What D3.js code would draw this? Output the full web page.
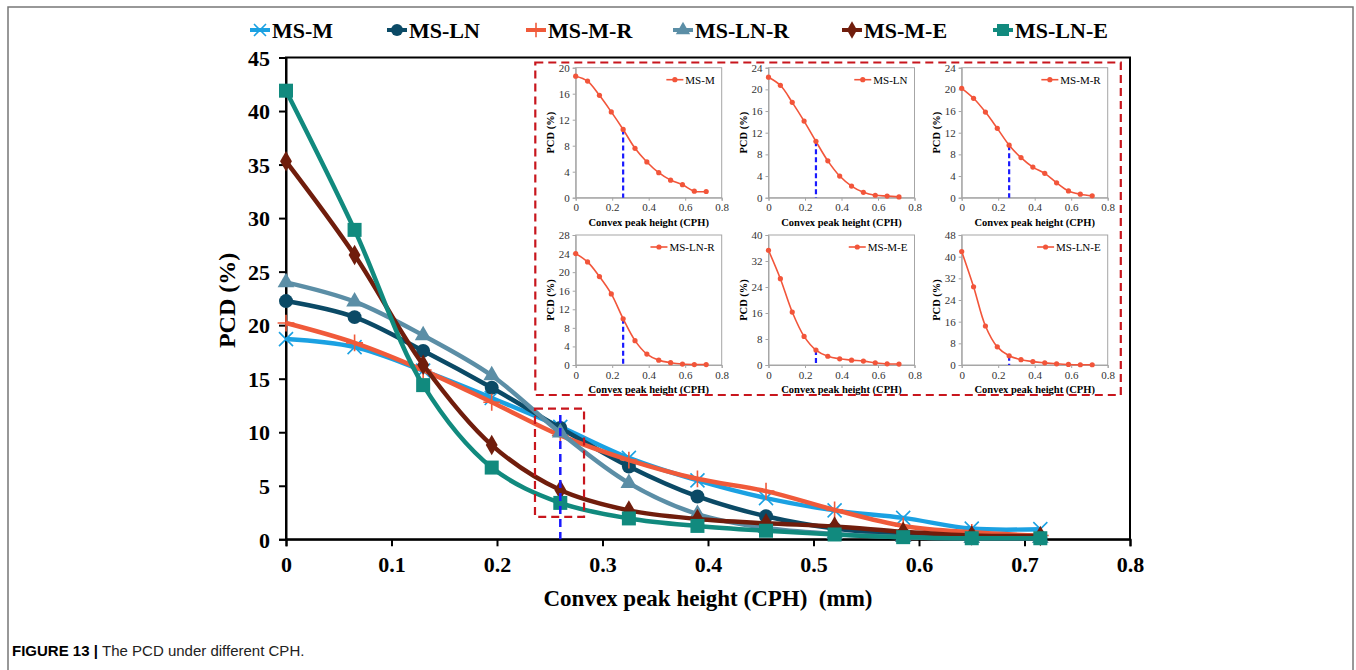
<!DOCTYPE html>
<html>
<head>
<meta charset="utf-8">
<script src="https://cdn.jsdelivr.net/npm/d3@7"></script>
<style>
  html, body { margin: 0; padding: 0; background: #fff; }
  svg { display: block; }
</style>
</head>
<body>
<svg id="chart" width="1356" height="670"></svg>
<script>
// Convex peak height (mm) at which PCD was measured
const cph = [0, 0.065, 0.13, 0.195, 0.26, 0.325, 0.39, 0.455, 0.52, 0.585, 0.65, 0.715];

// PCD (%) for each specimen group
const msM   = [18.7, 17.95, 15.75, 13.2, 10.5, 7.6, 5.5, 3.85, 2.7, 2.0, 1.0, 0.95];
const msLN  = [22.25, 20.75, 17.6, 14.15, 10.4, 6.8, 4.0, 2.15, 1.0, 0.45, 0.3, 0.15];
const msMR  = [20.2, 18.35, 15.8, 12.8, 9.7, 7.4, 5.65, 4.5, 2.75, 1.25, 0.65, 0.35];
const msLNR = [24.0, 22.2, 19.05, 15.3, 9.95, 5.25, 2.35, 1.05, 0.5, 0.2, 0.1, 0.1];
const msME  = [35.3, 26.55, 16.3, 8.8, 4.6, 2.7, 1.9, 1.5, 1.2, 0.7, 0.35, 0.3];
const msLNE = [41.9, 28.9, 14.4, 6.7, 3.4, 1.95, 1.25, 0.8, 0.45, 0.2, 0.1, 0.1];

const seriesNames = ["MS-M", "MS-LN", "MS-M-R", "MS-LN-R", "MS-M-E", "MS-LN-E"];
const seriesValues = [msM, msLN, msMR, msLNR, msME, msLNE];

// Axis ticks
const mainXTicks = [0, 0.1, 0.2, 0.3, 0.4, 0.5, 0.6, 0.7, 0.8];
const mainYTicks = [0, 5, 10, 15, 20, 25, 30, 35, 40, 45];
const insetXTicks = [0, 0.2, 0.4, 0.6, 0.8];
const insetYMax  = [20, 24, 24, 28, 40, 48];
const insetYStep = [4, 4, 4, 4, 8, 8];

// Critical height and the highlighted window around it
const criticalCPH = 0.26;
const criticalTop = 11.6;
const windowX = [0.236, 0.2825];
const windowY = [2.1, 12.2];

// Styling
const colors  = ["#1ba1e2", "#0b4a66", "#f05a3a", "#5b8ea6", "#701d0c", "#118a7e"];
const shapes  = ["x", "circle", "plus", "triangle", "diamond", "square"];
const insetColor = "#f2553a";
const serif = "'Liberation Serif', 'Times New Roman', serif";

const svg = d3.select("#chart");

// outer figure frame
svg.append("rect")
  .attr("x", 8).attr("y", 7).attr("width", 1345).attr("height", 700)
  .attr("fill", "none").attr("stroke", "#777").attr("stroke-width", 1.5);

// ---------- main chart ----------
const x = d3.scaleLinear().domain([0, 0.8]).range([286, 1130]);
const y = d3.scaleLinear().domain([0, 45]).range([539.3, 57.5]);

const gMain = svg.append("g");

// plot frame
gMain.append("rect")
  .attr("x", x(0)).attr("y", y(45))
  .attr("width", x(0.8) - x(0)).attr("height", y(0) - y(45))
  .attr("fill", "none").attr("stroke", "#000").attr("stroke-width", 2);

const xAxis = gMain.append("g")
  .attr("transform", `translate(0,${y(0)})`)
  .call(d3.axisBottom(x).tickValues(mainXTicks).tickSize(7).tickPadding(10)
    .tickFormat(d => d === 0 ? "0" : d3.format(".1f")(d)));
const yAxis = gMain.append("g")
  .attr("transform", `translate(${x(0)},0)`)
  .call(d3.axisLeft(y).tickValues(mainYTicks).tickSize(7).tickPadding(9));

[xAxis, yAxis].forEach(a => {
  a.select(".domain").attr("stroke", "#000").attr("stroke-width", 2);
  a.selectAll(".tick line").attr("stroke", "#000").attr("stroke-width", 2);
  a.selectAll(".tick text")
    .attr("fill", "#000")
    .style("font-family", serif).style("font-weight", "bold").style("font-size", "22px");
});
yAxis.selectAll(".tick text").attr("dy", "0.35em");

// axis titles
gMain.append("text")
  .attr("x", (x(0) + x(0.8)) / 2).attr("y", 606)
  .attr("text-anchor", "middle")
  .style("font-family", serif).style("font-weight", "bold").style("font-size", "23px")
  .text("Convex peak height (CPH)\u00a0\u00a0(mm)");
gMain.append("text")
  .attr("transform", `translate(235,${(y(0) + y(45)) / 2 + 2}) rotate(-90)`)
  .attr("text-anchor", "middle")
  .style("font-family", serif).style("font-weight", "bold").style("font-size", "24px")
  .text("PCD (%)");

// marker drawing helper
function drawMarker(g, shape, cx, cy, color, s) {
  if (shape === "x") {
    const h = s * 0.5;
    g.append("path")
      .attr("d", `M${cx - h},${cy - h}L${cx + h},${cy + h}M${cx - h},${cy + h}L${cx + h},${cy - h}`)
      .attr("stroke", color).attr("stroke-width", 1.6).attr("fill", "none");
  } else if (shape === "plus") {
    const h = s * 0.6;
    g.append("path")
      .attr("d", `M${cx},${cy - h}L${cx},${cy + h}M${cx - h},${cy}L${cx + h},${cy}`)
      .attr("stroke", color).attr("stroke-width", 1.6).attr("fill", "none");
  } else {
    const sym = { circle: d3.symbolCircle, triangle: d3.symbolTriangle,
                  diamond: d3.symbolDiamond, square: d3.symbolSquare }[shape];
    const area = { circle: s * s * 0.78, triangle: s * s * 0.62,
                   diamond: s * s * 0.62, square: s * s }[shape];
    g.append("path")
      .attr("transform", `translate(${cx},${cy})`)
      .attr("d", d3.symbol().type(sym).size(area)())
      .attr("fill", color);
  }
}

// series lines and markers
const mainLine = d3.line()
  .x((d, i) => x(cph[i])).y(d => y(d))
  .curve(d3.curveCatmullRom.alpha(0.5));

seriesValues.forEach((vals, k) => {
  const g = gMain.append("g");
  g.append("path")
    .attr("d", mainLine(vals))
    .attr("fill", "none").attr("stroke", colors[k]).attr("stroke-width", 4.5)
    .attr("stroke-linejoin", "round");
  vals.forEach((v, i) => drawMarker(g, shapes[k], x(cph[i]), y(v), colors[k], 14));
});

// highlighted window around the critical height
gMain.append("rect")
  .attr("x", x(windowX[0])).attr("y", y(windowY[1]))
  .attr("width", x(windowX[1]) - x(windowX[0])).attr("height", y(windowY[0]) - y(windowY[1]))
  .attr("fill", "none").attr("stroke", "#c8161d").attr("stroke-width", 2.2)
  .attr("stroke-dasharray", "8,5");
gMain.append("line")
  .attr("x1", x(criticalCPH)).attr("x2", x(criticalCPH))
  .attr("y1", y(criticalTop)).attr("y2", y(0))
  .attr("stroke", "#1a1aff").attr("stroke-width", 2.5).attr("stroke-dasharray", "8,5");

// ---------- legend ----------
const legendMarkerX = [260, 397, 536, 683, 852, 1003];
const legendY = 30;
const gLeg = svg.append("g");
seriesNames.forEach((name, k) => {
  const mx = legendMarkerX[k];
  gLeg.append("line")
    .attr("x1", mx - 10).attr("x2", mx + 10).attr("y1", legendY).attr("y2", legendY)
    .attr("stroke", colors[k]).attr("stroke-width", 4);
  drawMarker(gLeg, shapes[k], mx, legendY, colors[k], 12);
  gLeg.append("text")
    .attr("x", mx + 12).attr("y", legendY).attr("dy", "0.35em")
    .style("font-family", serif).style("font-weight", "bold").style("font-size", "22px")
    .text(name);
});

// ---------- insets ----------
const insetLeft = [575.7, 768.5, 961.7];
const insetTop = [67.7, 235];
const insetW = 146, insetH = 130;

seriesValues.forEach((vals, k) => {
  const col = k % 3, row = Math.floor(k / 3);
  const x0 = insetLeft[col], y0 = insetTop[row];
  const xi = d3.scaleLinear().domain([0, 0.8]).range([x0, x0 + insetW]);
  const yi = d3.scaleLinear().domain([0, insetYMax[k]]).range([y0 + insetH, y0]);
  const g = svg.append("g");

  g.append("rect")
    .attr("x", x0).attr("y", y0).attr("width", insetW).attr("height", insetH)
    .attr("fill", "none").attr("stroke", "#a6a6a6").attr("stroke-width", 1);

  const yTicks = d3.range(0, insetYMax[k] + 0.001, insetYStep[k]);
  const ax = g.append("g").attr("transform", `translate(0,${y0 + insetH})`)
    .call(d3.axisBottom(xi).tickValues(insetXTicks).tickSize(3).tickPadding(3)
      .tickFormat(d => d === 0 ? "0" : d3.format(".1f")(d)));
  const ay = g.append("g").attr("transform", `translate(${x0},0)`)
    .call(d3.axisLeft(yi).tickValues(yTicks).tickSize(3).tickPadding(3));
  [ax, ay].forEach(a => {
    a.select(".domain").attr("stroke", "#a6a6a6");
    a.selectAll(".tick line").attr("stroke", "#a6a6a6");
    a.selectAll(".tick text").attr("fill", "#333")
      .style("font-family", serif).style("font-size", "11px");
  });

  g.append("text")
    .attr("x", x0 + insetW / 2).attr("y", y0 + insetH + 28)
    .attr("text-anchor", "middle")
    .style("font-family", serif).style("font-weight", "bold").style("font-size", "10.5px")
    .text("Convex peak height (CPH)");
  g.append("text")
    .attr("transform", `translate(${x0 - 22},${y0 + insetH / 2}) rotate(-90)`)
    .attr("text-anchor", "middle")
    .style("font-family", serif).style("font-weight", "bold").style("font-size", "10.5px")
    .text("PCD (%)");

  // critical height marker
  g.append("line")
    .attr("x1", xi(criticalCPH)).attr("x2", xi(criticalCPH))
    .attr("y1", yi(vals[4])).attr("y2", yi(0))
    .attr("stroke", "#1a1aff").attr("stroke-width", 2.2).attr("stroke-dasharray", "5,3");

  const line = d3.line()
    .x((d, i) => xi(cph[i])).y(d => yi(d))
    .curve(d3.curveCatmullRom.alpha(0.5));
  g.append("path").attr("d", line(vals))
    .attr("fill", "none").attr("stroke", insetColor).attr("stroke-width", 1.6);
  g.selectAll("circle.pt").data(vals).enter().append("circle")
    .attr("cx", (d, i) => xi(cph[i])).attr("cy", d => yi(d)).attr("r", 2.6)
    .attr("fill", insetColor);

  // inset legend
  const lx = x0 + insetW - 7, ly = y0 + 12;
  const t = g.append("text")
    .attr("x", lx).attr("y", ly).attr("dy", "0.35em").attr("text-anchor", "end")
    .style("font-family", serif).style("font-size", "11px")
    .text(seriesNames[k]);
  const tw = t.node().getComputedTextLength();
  g.append("line")
    .attr("x1", lx - tw - 19).attr("x2", lx - tw - 2).attr("y1", ly).attr("y2", ly)
    .attr("stroke", insetColor).attr("stroke-width", 1.6);
  g.append("circle").attr("cx", lx - tw - 10.5).attr("cy", ly).attr("r", 2.6).attr("fill", insetColor);
});

// dashed box grouping the insets
svg.append("rect")
  .attr("x", 535.3).attr("y", 62.5).attr("width", 585.5).attr("height", 332.5)
  .attr("fill", "none").attr("stroke", "#c8161d").attr("stroke-width", 2.2)
  .attr("stroke-dasharray", "8,5");

// ---------- caption ----------
const cap = svg.append("text")
  .attr("x", 12).attr("y", 656)
  .style("font-family", "'Liberation Sans', Arial, sans-serif").style("font-size", "15px");
cap.append("tspan").style("font-weight", "bold").text("FIGURE 13 | ");
cap.append("tspan").attr("fill", "#222").text("The PCD under different CPH.");
</script>
</body>
</html>
